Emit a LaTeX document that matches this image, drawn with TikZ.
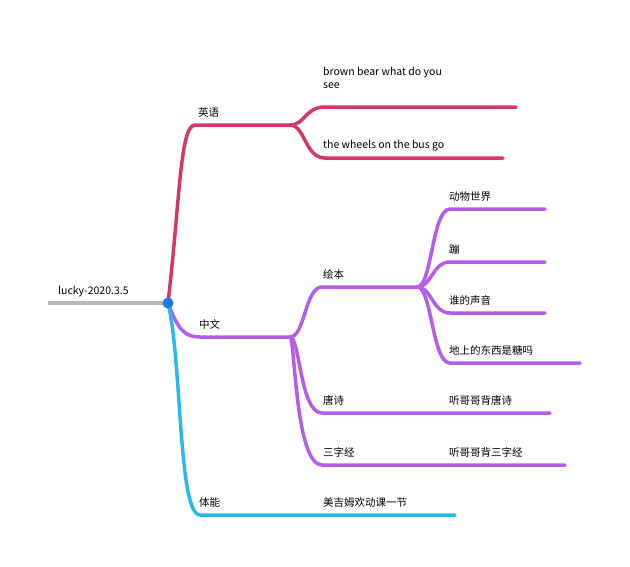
\documentclass[tikz,border=0pt]{standalone}
\usepackage{fontspec}
\setmainfont{Noto Sans CJK SC}
\begin{document}
\begin{tikzpicture}[x=1pt,y=-1pt,
  br/.style={line width=3.5pt,line cap=round},
  lbl/.style={anchor=south west,inner sep=0pt,font=\fontsize{10.5}{13}\selectfont},
  en/.style={color={rgb,255:red,214;green,54;blue,104}},
  zh/.style={color={rgb,255:red,182;green,92;blue,236}},
  ty/.style={color={rgb,255:red,43;green,184;blue,240}}]
\useasboundingbox (0,0) rectangle (630,566);
\coordinate (rs) at (48,303);
\coordinate (r) at (168,303);
\draw[line width=3.5pt,color=gray!55] (rs) -- (r);
\node[lbl] (root) at (58,297) {lucky-2020.3.5};
% English
\coordinate (e0) at (195,125); \coordinate (e1) at (290,125);
\draw[br,en] (r) .. controls (180,200) and (180,125) .. (e0) -- (e1);
\node[lbl] (yy) at (198,118) {英语};
\coordinate (e2) at (325,107); \coordinate (e2b) at (516,107);
\coordinate (e3) at (325,158); \coordinate (e3b) at (503,158);
\draw[br,en] (e1) .. controls (305,125) and (305,107) .. (e2) -- (e2b);
\draw[br,en] (e1) .. controls (305,125) and (305,158) .. (e3) -- (e3b);
\node[lbl,align=left,anchor=north west] (bb) at (323,67) {brown bear what do you\\see};
\node[lbl] (wh) at (323,151) {the wheels on the bus go};
% Chinese
\coordinate (c0) at (200,337); \coordinate (c1) at (290,337);
\draw[br,zh] (r) .. controls (178,330) and (185,337) .. (c0) -- (c1);
\node[lbl] (zw) at (199,330) {中文};
\coordinate (h0) at (322,287); \coordinate (h1) at (417,287);
\coordinate (t0) at (322,413); \coordinate (t1) at (550,413);
\coordinate (s0) at (322,465); \coordinate (s1) at (565,465);
\draw[br,zh] (c1) .. controls (305,337) and (305,287) .. (h0) -- (h1);
\draw[br,zh] (c1) .. controls (300,337) and (300,413) .. (t0) -- (t1);
\draw[br,zh] (c1) .. controls (295,337) and (295,465) .. (s0) -- (s1);
\node[lbl] (hb) at (323,280) {绘本};
\node[lbl] (ts) at (323,406) {唐诗};
\node[lbl] (tsb) at (449,406) {听哥哥背唐诗};
\node[lbl] (sz) at (323,458) {三字经};
\node[lbl] (szb) at (449,458) {听哥哥背三字经};
\foreach \n/\y/\e/\t in {a/209/545/动物世界, b/262/545/蹦, c/313/545/谁的声音, d/363/580/地上的东西是糖吗}{
  \coordinate (\n0) at (450,\y); \coordinate (\n1) at (\e,\y);
  \draw[br,zh] (h1) .. controls (432,287) and (432,\y) .. (\n0) -- (\n1);
  \node[lbl] (\n) at (449,\y-7) {\t};
}
% Tineng
\coordinate (p0) at (200,515); \coordinate (p1) at (455,515);
\draw[br,ty] (r) .. controls (182,360) and (178,515) .. (p0) -- (p1);
\node[lbl] (tn) at (199,508) {体能};
\node[lbl] (mj) at (323,508) {美吉姆欢动课一节};
\fill[color={rgb,255:red,30;green,120;blue,230}] (r) circle (5.5pt);
\end{tikzpicture}
\end{document}
